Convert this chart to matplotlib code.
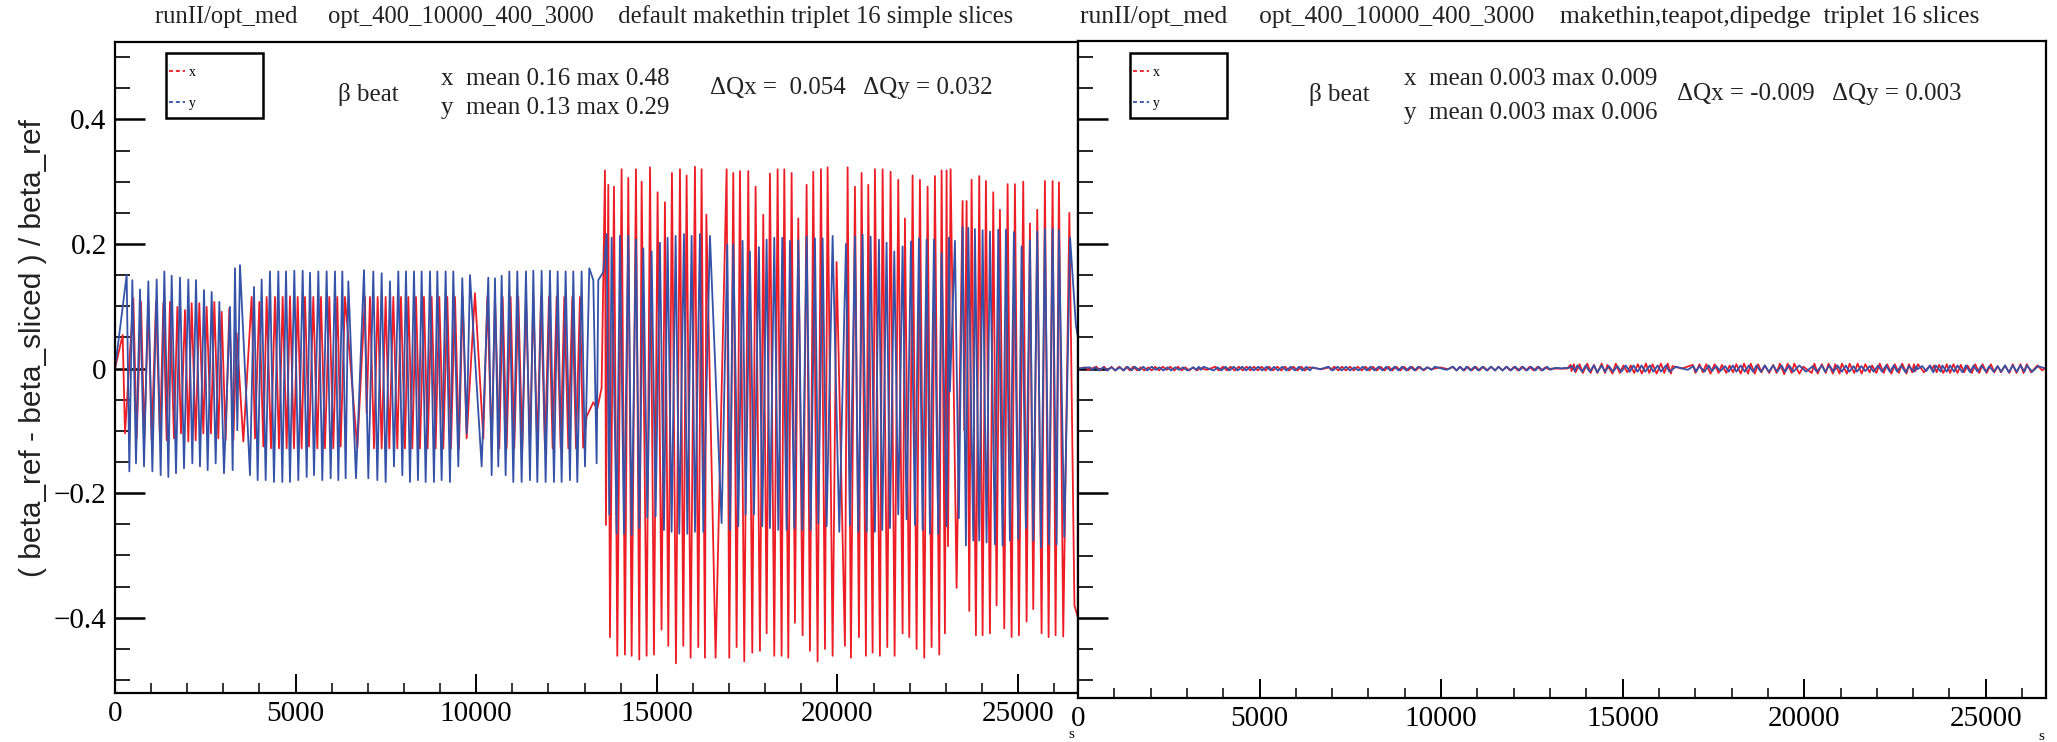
import matplotlib
matplotlib.use("Agg")
import matplotlib.pyplot as plt
from matplotlib.ticker import MultipleLocator, FuncFormatter
from matplotlib.patches import Rectangle
from matplotlib.lines import Line2D

# ---------------------------------------------------------------
# data: s [m] and beta beat, extremes of the curves
# ---------------------------------------------------------------
S_MAX = 26658.88

# horizontal (x) beat, left panel
red_s = [
    0, 212, 277, 508, 600, 720, 812, 923, 1015, 1135,
    1246, 1338, 1430, 1522, 1633, 1726, 1827, 1938, 2030, 2122,
    2233, 2334, 2445, 2537, 2657, 2750, 2860, 2953, 3063, 3165,
    3276, 3368, 3552, 3783, 3875, 3995, 4106, 4198, 4318, 4429,
    4540, 4641, 4752, 4844, 4955, 5057, 5167, 5260, 5370, 5490,
    5601, 5702, 5813, 5933, 6044, 6154, 6247, 6367, 6708, 6920,
    6966, 7059, 7170, 7271, 7382, 7492, 7594, 7705, 7815, 7917,
    8027, 8120, 8231, 8332, 8443, 8553, 8655, 8766, 8876, 8978,
    9089, 9199, 9301, 9412, 9522, 9624, 9735, 9965, 10196, 10307,
    10427, 10519, 10639, 10731, 10842, 10952, 11054, 11165, 11275, 11377,
    11488, 11580, 11691, 11792, 11903, 12014, 12115, 12226, 12337, 12438,
    12549, 12660, 12761, 12872, 12960, 13056, 13241, 13351, 13471, 13564,
    13591, 13656, 13702, 13813, 13905, 14025, 14117, 14209, 14302, 14422,
    14514, 14579, 14717, 14811, 14920, 15021, 15130, 15224, 15317, 15418,
    15529, 15640, 15732, 15824, 15935, 16055, 16147, 16239, 16332, 16370,
    16627, 16932, 17005, 17116, 17208, 17301, 17420, 17531, 17642, 17734,
    17854, 17946, 18039, 18131, 18251, 18343, 18454, 18528, 18639, 18731,
    18823, 18915, 19035, 19146, 19238, 19330, 19450, 19543, 19654, 19727,
    19866, 19976, 20207, 20281, 20373, 20484, 20595, 20668, 20788, 20853,
    20973, 21037, 21176, 21250, 21379, 21471, 21582, 21683, 21803, 21868,
    21988, 22080, 22191, 22283, 22403, 22495, 22606, 22698, 22818, 22883,
    22975, 23021, 23060, 23132, 23298, 23464, 23511, 23575, 23649, 23713,
    23833, 23925, 24018, 24110, 24221, 24313, 24405, 24497, 24618, 24710,
    24821, 24913, 25024, 25143, 25236, 25328, 25420, 25531, 25651, 25743,
    25845, 25956, 26038, 26131, 26250, 26420, 26560, 26659,
]
red_v = [
    0.0, 0.054, -0.104, 0.113, -0.112, 0.107, -0.112, 0.107, -0.115, 0.107,
    -0.115, 0.105, -0.115, 0.107, -0.112, 0.099, -0.104, 0.094, -0.117, 0.105,
    -0.115, 0.105, -0.104, 0.099, -0.104, 0.107, -0.112, 0.091, -0.115, 0.097,
    -0.115, 0.057, -0.117, 0.115, -0.112, 0.107, -0.125, 0.115, -0.128, 0.115,
    -0.128, 0.115, -0.128, 0.116, -0.128, 0.115, -0.128, 0.115, -0.125, 0.115,
    -0.128, 0.115, -0.128, 0.115, -0.128, 0.115, -0.125, 0.115, -0.128, 0.115,
    -0.072, 0.115, -0.128, 0.115, -0.128, 0.115, -0.128, 0.115, -0.128, 0.115,
    -0.128, 0.115, -0.128, 0.115, -0.128, 0.115, -0.128, 0.115, -0.128, 0.115,
    -0.128, 0.115, -0.128, 0.115, -0.128, 0.115, -0.112, 0.121, -0.112, 0.115,
    -0.128, 0.115, -0.128, 0.115, -0.128, 0.115, -0.128, 0.115, -0.128, 0.115,
    -0.128, 0.115, -0.128, 0.115, -0.128, 0.115, -0.128, 0.115, -0.128, 0.115,
    -0.128, 0.115, -0.128, 0.115, -0.127, -0.077, -0.054, -0.065, -0.031, 0.318,
    -0.251, 0.295, -0.431, 0.292, -0.461, 0.320, -0.459, 0.306, -0.461, 0.320,
    -0.467, 0.300, -0.461, 0.323, -0.459, 0.283, -0.419, 0.267, -0.445, 0.314,
    -0.473, 0.320, -0.445, 0.310, -0.464, 0.324, -0.447, 0.320, -0.464, 0.247,
    -0.464, 0.320, -0.464, 0.314, -0.447, 0.317, -0.470, 0.317, -0.456, 0.292,
    -0.453, 0.247, -0.425, 0.313, -0.461, 0.320, -0.461, 0.320, -0.464, 0.314,
    -0.408, 0.241, -0.428, 0.295, -0.453, 0.316, -0.470, 0.320, -0.450, 0.323,
    -0.461, 0.171, -0.445, 0.323, -0.464, 0.292, -0.431, 0.314, -0.461, 0.295,
    -0.456, 0.320, -0.461, 0.320, -0.447, 0.316, -0.461, 0.303, -0.425, 0.241,
    -0.431, 0.310, -0.450, 0.303, -0.464, 0.292, -0.447, 0.309, -0.459, 0.318,
    -0.425, 0.318, -0.285, 0.320, -0.352, 0.269, -0.099, 0.269, -0.389, 0.303,
    -0.428, 0.309, -0.428, 0.301, -0.425, 0.283, -0.380, 0.255, -0.417, 0.296,
    -0.431, 0.296, -0.428, 0.300, -0.406, 0.233, -0.386, 0.255, -0.425, 0.301,
    -0.431, 0.301, -0.428, 0.299, -0.430, 0.250, -0.380, -0.400,
]

# vertical (y) beat, left panel
blue_s = [
    0, 323, 397, 480, 581, 692, 803, 923, 1034, 1154,
    1264, 1366, 1477, 1569, 1689, 1799, 1910, 2030, 2141, 2242,
    2353, 2464, 2565, 2676, 2787, 2888, 3017, 3183, 3257, 3322,
    3386, 3460, 3737, 3848, 3949, 4060, 4171, 4290, 4401, 4521,
    4632, 4734, 4844, 4964, 5075, 5195, 5306, 5398, 5509, 5629,
    5739, 5859, 5970, 6090, 6182, 6293, 6385, 6459, 6671, 6893,
    7013, 7151, 7262, 7382, 7492, 7612, 7723, 7843, 7954, 8055,
    8166, 8277, 8387, 8489, 8600, 8720, 8830, 8923, 9042, 9153,
    9273, 9365, 9504, 9614, 9735, 9827, 10150, 10334, 10427, 10519,
    10611, 10704, 10814, 10916, 11026, 11137, 11257, 11377, 11488, 11580,
    11691, 11811, 11921, 12041, 12152, 12254, 12364, 12475, 12595, 12687,
    12798, 12918, 13010, 13130, 13241, 13333, 13379, 13518,
    13610, 13684, 13748, 13887, 13979, 14090, 14209, 14302, 14422, 14514,
    14625, 14736, 14855, 14966, 15086, 15197, 15298, 15409, 15520, 15621,
    15750, 15843, 15963, 16055, 16193, 16286, 16470, 16793, 16950, 17024,
    17116, 17254, 17374, 17457, 17577, 17688, 17826, 17919, 18039, 18131,
    18251, 18362, 18472, 18592, 18685, 18805, 18915, 19026, 19146, 19257,
    19377, 19469, 19589, 19700, 19866, 20050, 20235, 20345, 20484, 20576,
    20696, 20807, 20918, 21037, 21148, 21240, 21360, 21453, 21573, 21683,
    21803, 21914, 22034, 22145, 22255, 22357, 22468, 22560, 22671, 22791,
    22883, 23021, 23086, 23113, 23252, 23360, 23464, 23556, 23621, 23760,
    23805, 23925, 24018, 24128, 24221, 24359, 24451, 24571, 24664, 24774,
    24885, 25005, 25097, 25217, 25328, 25420, 25531, 25633, 25743, 25854,
    25956, 26066, 26131, 26280, 26440, 26600, 26659,
]
blue_v = [
    0.0, 0.150, -0.165, 0.142, -0.152, 0.127, -0.157, 0.140, -0.165, 0.143,
    -0.171, 0.156, -0.174, 0.149, -0.168, 0.146, -0.160, 0.143, -0.152, 0.142,
    -0.157, 0.126, -0.163, 0.123, -0.152, 0.107, -0.168, 0.099, -0.163, 0.161,
    -0.099, 0.166, -0.171, 0.131, -0.179, 0.143, -0.179, 0.156, -0.182, 0.156,
    -0.182, 0.156, -0.182, 0.157, -0.179, 0.157, -0.174, 0.154, -0.171, 0.156,
    -0.179, 0.156, -0.176, 0.156, -0.179, 0.156, -0.176, 0.140, -0.176, 0.158,
    -0.176, 0.156, -0.179, 0.153, -0.182, 0.140, -0.157, 0.156, -0.171, 0.156,
    -0.182, 0.156, -0.179, 0.156, -0.182, 0.156, -0.182, 0.156, -0.179, 0.156,
    -0.182, 0.156, -0.157, 0.145, -0.104, 0.150, -0.157, 0.146, -0.171, 0.145,
    -0.157, 0.149, -0.171, 0.156, -0.182, 0.156, -0.182, 0.156, -0.179, 0.157,
    -0.182, 0.157, -0.182, 0.157, -0.182, 0.156, -0.182, 0.156, -0.179, 0.156,
    -0.182, 0.156, -0.157, 0.161, 0.142, -0.152, 0.142, 0.155,
    0.216, -0.234, 0.210, -0.265, 0.213, -0.265, 0.213, -0.267, 0.207, -0.256,
    0.193, -0.239, 0.188, -0.237, 0.202, -0.259, 0.210, -0.262, 0.213, -0.265,
    0.216, -0.265, 0.213, -0.262, 0.216, -0.262, 0.213, -0.248, 0.199, -0.259,
    0.199, -0.253, 0.205, -0.234, 0.188, -0.234, 0.195, -0.253, 0.207, -0.256,
    0.210, -0.259, 0.210, -0.259, 0.205, -0.256, 0.206, -0.259, 0.212, -0.259,
    0.209, -0.248, 0.209, -0.253, 0.213, -0.262, 0.200, -0.251, 0.212, -0.262,
    0.215, -0.262, 0.212, -0.262, 0.207, -0.259, 0.202, -0.256, 0.188, -0.234,
    0.196, -0.242, 0.204, -0.251, 0.209, -0.259, 0.207, -0.265, 0.207, -0.265,
    0.185, -0.253, 0.210, -0.037, 0.205, -0.240, 0.227, -0.284, 0.226, -0.276,
    0.224, -0.276, 0.222, -0.279, 0.220, -0.282, 0.223, -0.284, 0.223, -0.276,
    0.219, -0.273, 0.196, -0.256, 0.206, -0.276, 0.220, -0.287, 0.224, -0.282,
    0.224, -0.282, 0.222, -0.270, 0.210, 0.070, 0.050,
]

# right panel: same lattice positions, much smaller beat
red2_v = [
    0.0, 0.002, -0.002, 0.003, -0.003, 0.003, -0.003, 0.003, -0.003, 0.003,
    -0.003, 0.003, -0.003, 0.003, -0.003, 0.002, -0.003, 0.002, -0.003, 0.003,
    -0.003, 0.003, -0.002, 0.003, -0.003, 0.003, -0.003, 0.002, -0.003, 0.002,
    -0.003, 0.001, -0.002, 0.003, -0.003, 0.003, -0.003, 0.003, -0.003, 0.003,
    -0.003, 0.003, -0.003, 0.003, -0.003, 0.003, -0.003, 0.003, -0.003, 0.003,
    -0.003, 0.003, -0.003, 0.003, -0.003, 0.003, -0.003, 0.002, -0.001, 0.002,
    -0.002, 0.003, -0.003, 0.003, -0.003, 0.003, -0.003, 0.003, -0.003, 0.003,
    -0.003, 0.003, -0.003, 0.003, -0.003, 0.003, -0.003, 0.003, -0.003, 0.003,
    -0.003, 0.003, -0.003, 0.003, -0.003, 0.002, -0.001, 0.002, -0.001, 0.003,
    -0.003, 0.003, -0.003, 0.003, -0.003, 0.003, -0.003, 0.003, -0.003, 0.003,
    -0.003, 0.003, -0.003, 0.003, -0.003, 0.003, -0.003, 0.003, -0.003, 0.003,
    -0.003, 0.003, -0.003, 0.002, -0.001, 0.0, 0.0, 0.0, 0.0, 0.006,
    -0.004, 0.007, -0.006, 0.007, -0.007, 0.008, -0.007, 0.006, -0.007, 0.008,
    -0.007, 0.006, -0.008, 0.008, -0.007, 0.005, -0.006, 0.005, -0.007, 0.007,
    -0.008, 0.008, -0.007, 0.007, -0.008, 0.008, -0.007, 0.008, -0.008, 0.004,
    0.0, 0.006, -0.007, 0.007, -0.006, 0.007, -0.008, 0.007, -0.007, 0.006,
    -0.007, 0.005, -0.006, 0.007, -0.008, 0.008, -0.008, 0.008, -0.008, 0.007,
    -0.006, 0.005, -0.007, 0.006, -0.007, 0.008, -0.009, 0.008, -0.007, 0.008,
    -0.008, 0.003, -0.007, 0.008, -0.008, 0.007, -0.007, 0.008, -0.008, 0.007,
    -0.008, 0.008, -0.008, 0.008, -0.007, 0.008, -0.008, 0.007, -0.006, 0.005,
    -0.007, 0.008, -0.007, 0.007, -0.008, 0.007, -0.007, 0.008, -0.008, 0.007,
    -0.006, 0.007, -0.004, 0.007, -0.006, 0.005, -0.002, 0.005, -0.006, 0.006,
    -0.007, 0.007, -0.007, 0.007, -0.007, 0.006, -0.006, 0.005, -0.007, 0.007,
    -0.007, 0.007, -0.007, 0.007, -0.006, 0.004, -0.006, 0.005, -0.007, 0.007,
    -0.007, 0.007, -0.007, 0.007, -0.006, 0.005, -0.003, 0.002,
]
blue2_v = [
    0.0, 0.002, -0.002, 0.002, -0.003, 0.002, -0.003, 0.002, -0.003, 0.002,
    -0.003, 0.003, -0.003, 0.003, -0.003, 0.003, -0.003, 0.003, -0.002, 0.002,
    -0.003, 0.002, -0.003, 0.002, -0.002, 0.002, -0.003, 0.002, -0.002, 0.003,
    -0.002, 0.003, -0.003, 0.002, -0.003, 0.003, -0.003, 0.003, -0.003, 0.003,
    -0.003, 0.003, -0.003, 0.003, -0.003, 0.003, -0.003, 0.003, -0.003, 0.003,
    -0.003, 0.003, -0.003, 0.003, -0.003, 0.003, -0.003, 0.002, -0.001, 0.003,
    -0.003, 0.003, -0.003, 0.003, -0.003, 0.002, -0.003, 0.003, -0.003, 0.003,
    -0.003, 0.003, -0.003, 0.003, -0.003, 0.003, -0.003, 0.003, -0.003, 0.003,
    -0.003, 0.003, -0.002, 0.002, -0.002, 0.003, -0.002, 0.003, -0.003, 0.003,
    -0.003, 0.003, -0.003, 0.003, -0.003, 0.003, -0.003, 0.003, -0.003, 0.003,
    -0.003, 0.003, -0.003, 0.003, -0.003, 0.003, -0.003, 0.003, -0.003, 0.003,
    -0.003, 0.003, -0.002, 0.001, 0.001, 0.0, 0.001, 0.001,
    0.004, -0.004, 0.005, -0.005, 0.005, -0.005, 0.005, -0.006, 0.005, -0.005,
    0.004, -0.005, 0.004, -0.005, 0.005, -0.005, 0.005, -0.005, 0.005, -0.005,
    0.005, -0.005, 0.005, -0.005, 0.005, -0.005, 0.003, -0.002, 0.004, -0.005,
    0.004, -0.005, 0.005, -0.004, 0.004, -0.004, 0.004, -0.005, 0.005, -0.005,
    0.005, -0.005, 0.005, -0.005, 0.005, -0.005, 0.005, -0.005, 0.005, -0.005,
    0.005, -0.005, 0.005, -0.005, 0.005, -0.005, 0.004, -0.005, 0.005, -0.005,
    0.005, -0.005, 0.005, -0.005, 0.005, -0.005, 0.004, -0.005, 0.004, -0.004,
    0.004, -0.005, 0.005, -0.005, 0.005, -0.005, 0.005, -0.005, 0.005, -0.006,
    0.004, -0.005, 0.004, -0.001, 0.004, -0.004, 0.005, -0.006, 0.005, -0.005,
    0.005, -0.005, 0.005, -0.005, 0.005, -0.006, 0.005, -0.006, 0.005, -0.005,
    0.005, -0.005, 0.004, -0.005, 0.004, -0.005, 0.005, -0.006, 0.005, -0.005,
    0.005, -0.005, 0.005, -0.005, 0.004, 0.001, 0.001,
]

titles = [
    "runII/opt_med     opt_400_10000_400_3000    default makethin triplet 16 simple slices",
    "runII/opt_med     opt_400_10000_400_3000    makethin,teapot,dipedge  triplet 16 slices",
]
stats_x = ["x  mean 0.16 max 0.48", "x  mean 0.003 max 0.009"]
stats_y = ["y  mean 0.13 max 0.29", "y  mean 0.003 max 0.006"]
tunes = ["\u0394Qx =  0.054   \u0394Qy = 0.032", "\u0394Qx = -0.009   \u0394Qy = 0.003"]

# ---------------------------------------------------------------
# figure, placed in pixels of a 2057x742 canvas
# ---------------------------------------------------------------
W, H = 2057, 742
fig = plt.figure(figsize=(W / 100, H / 100), dpi=100)
SERIF = "Liberation Serif"
RED = "#ee1c24"
BLUE = "#3452a8"


def box(l, t, r, b):
    return [l / W, 1 - b / H, (r - l) / W, (b - t) / H]


def fx(x):
    return x / W


def fy(y):
    return 1 - y / H


def ylab(v, pos):
    if abs(v) < 1e-9:
        return "0"
    return f"{v:.1f}".replace("-", "\u2212")


ax1 = fig.add_axes(box(115, 42, 1078, 693))
ax2 = fig.add_axes(box(1078, 41, 2046, 698))

ax1.plot(red_s, red_v, color=RED, lw=1.3)
ax1.plot(blue_s, blue_v, color=BLUE, lw=1.3)
ax2.plot(red_s, red2_v, color=RED, lw=1.3)
ax2.plot(blue_s, blue2_v, color=BLUE, lw=1.3)

ax1.set_ylim(-0.5207, 0.5242)
ax2.set_ylim(-0.5287, 0.5258)

for ax in (ax1, ax2):
    ax.set_xlim(0, S_MAX)
    for sp in ax.spines.values():
        sp.set_linewidth(1.6)
    ax.xaxis.set_major_locator(MultipleLocator(5000))
    ax.xaxis.set_minor_locator(MultipleLocator(1000))
    ax.yaxis.set_major_locator(MultipleLocator(0.2))
    ax.yaxis.set_minor_locator(MultipleLocator(0.05))
    ax.tick_params(which="both", direction="in", top=False, right=False)
    ax.tick_params(axis="x", which="major", length=13.5, width=1.4, pad=6)
    ax.tick_params(axis="x", which="minor", length=7, width=1.1)
    ax.tick_params(axis="y", which="major", length=21.5, width=1.8, pad=6)
    ax.tick_params(axis="y", which="minor", length=10.5, width=1.2)
    ax.xaxis.set_major_formatter(FuncFormatter(lambda v, p: f"{v:.0f}"))
    ax.yaxis.set_major_formatter(FuncFormatter(ylab))
    for lab in ax.get_xticklabels() + ax.get_yticklabels():
        lab.set_fontfamily(SERIF)
        lab.set_fontsize(21)

ax2.tick_params(axis="y", labelleft=False)

fig.text(fx(33), fy(348), "( beta_ref - beta_sliced ) / beta_ref", rotation=90,
         ha="center", va="center", fontsize=21.5, family="Liberation Sans", color="#222222")

fig.text(fx(1071), fy(735), "s", ha="center", va="center", fontsize=11, family=SERIF)
fig.text(fx(2041), fy(737), "s", ha="center", va="center", fontsize=11, family=SERIF)

# titles, stats text and legends for both panels
title_x = [155, 1080]
title_size = [17.7, 18.4]
beta_x = [338, 1309]
stat_x = [441, 1404]
stat_y2 = [108, 113]
tune_xy = [(710, 88), (1677, 94)]
leg_box = [(166, 53, 263, 118), (1130, 53, 1227, 118)]

for i in range(2):
    fig.text(fx(title_x[i]), fy(17), titles[i], ha="left", va="center",
             fontsize=title_size[i], family=SERIF, color="#222222")
    fig.text(fx(beta_x[i]), fy(94), "\u03b2 beat", ha="left", va="center",
             fontsize=18, family=SERIF, color="#222222")
    fig.text(fx(stat_x[i]), fy(79), stats_x[i], ha="left", va="center",
             fontsize=18, family=SERIF, color="#222222")
    fig.text(fx(stat_x[i]), fy(stat_y2[i]), stats_y[i], ha="left", va="center",
             fontsize=18, family=SERIF, color="#222222")
    fig.text(fx(tune_xy[i][0]), fy(tune_xy[i][1]), tunes[i], ha="left", va="center",
             fontsize=18, family=SERIF, color="#222222")

    l, t, r, b = leg_box[i]
    fig.add_artist(Rectangle((fx(l), fy(b)), (r - l) / W, (b - t) / H,
                             transform=fig.transFigure, facecolor="white",
                             edgecolor="black", lw=1.8))
    for yy, col, name in ((71, RED, "x"), (102, BLUE, "y")):
        fig.add_artist(Line2D([fx(l + 3), fx(l + 19)], [fy(yy), fy(yy)],
                              transform=fig.transFigure, color=col, lw=1.3,
                              dashes=(2.2, 1.6)))
        fig.text(fx(l + 23), fy(yy + 2), name, ha="left", va="center",
                 fontsize=10, family=SERIF)

fig.savefig("out.png", dpi=100)
